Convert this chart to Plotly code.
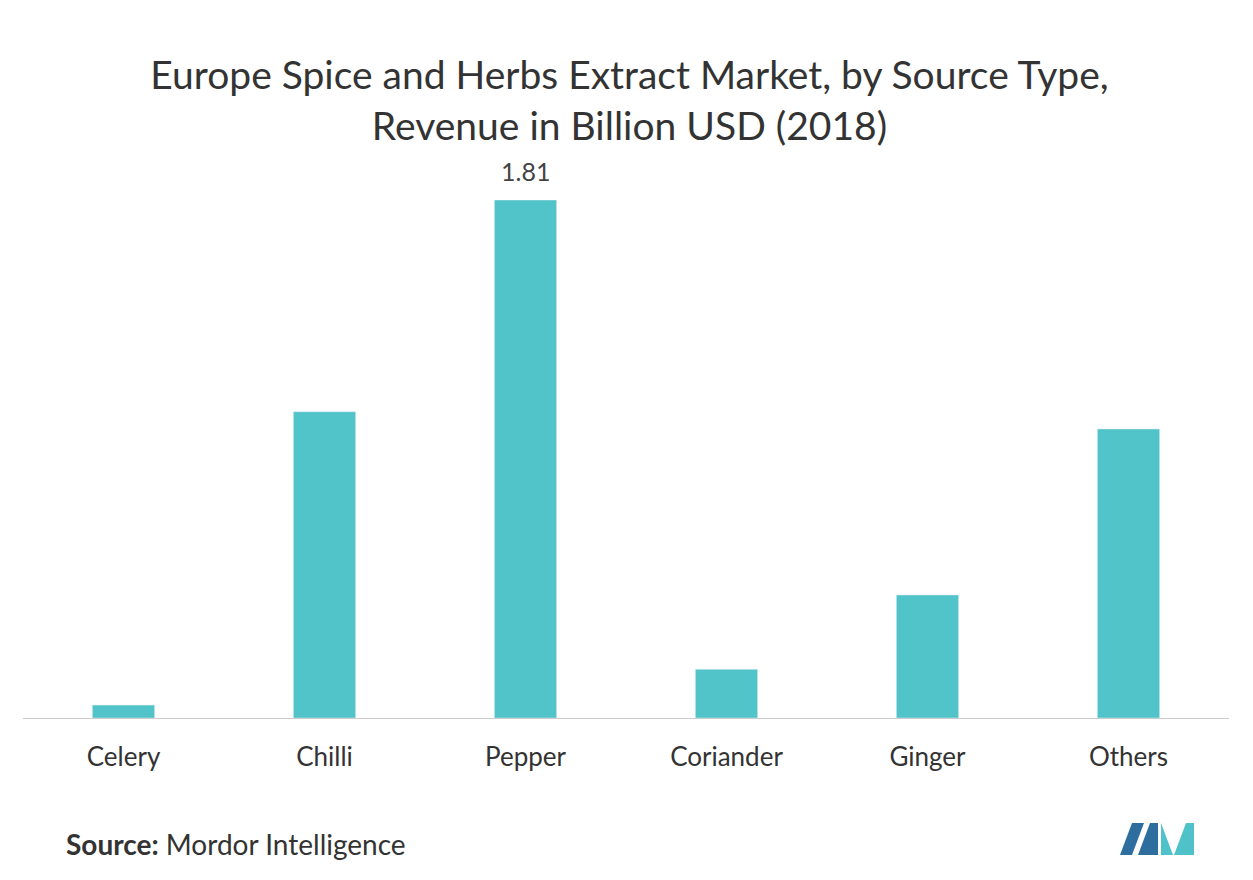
import plotly.graph_objects as go

categories = ["Celery", "Chilli", "Pepper", "Coriander", "Ginger", "Others"]
values = [0.045, 1.07, 1.81, 0.17, 0.43, 1.01]
labels = ["", "", "1.81", "", "", ""]

L, R, T, B = 15, 32, 192, 170

fig = go.Figure(go.Bar(x=categories, y=values, marker_color="#51C4CA"))
for c, v, t in zip(categories, values, labels):
    if t:
        fig.add_annotation(x=c, y=v, text=t, showarrow=False, yanchor="bottom", yshift=12,
                           font=dict(size=25, color="#444", family="Lato"))
fig.update_layout(
    width=1253, height=880, plot_bgcolor="white", paper_bgcolor="white",
    font=dict(family="Lato", color="#333"),
    title=dict(text="Europe Spice and Herbs Extract Market, by Source Type,<br>Revenue in Billion USD (2018)",
               x=0.496, xanchor="center", y=0.908, yanchor="top",
               font=dict(size=39, color="#333", family="Lato")),
    margin=dict(l=L, r=R, t=T, b=B),
    bargap=0.69, showlegend=False,
    xaxis=dict(showline=True, linecolor="#ccc", linewidth=1, ticks="outside",
               ticklen=16, tickcolor="rgba(0,0,0,0)",
               tickfont=dict(size=26, color="#333")),
    yaxis=dict(visible=False, range=[0, 1.81]),
)
fig.add_annotation(text="<b>Source:</b> Mordor Intelligence", xref="paper", yref="paper",
                   x=(56 - L) / (1253 - L - R), xanchor="left",
                   y=(880 - B - 836) / (880 - T - B), yanchor="middle", showarrow=False,
                   font=dict(size=28, color="#333", family="Lato"))
W, H = 1253 - L - R, 880 - T - B
shapes = []
for pts, col in [([(1112, 847), (1124, 815), (1136, 815), (1124, 847)], "#2E6E9E"),
                 ([(1130, 847), (1142, 815), (1150, 815), (1150, 847)], "#2E6E9E"),
                 ([(1153, 815), (1165, 847), (1153, 847)], "#4FC2C9"),
                 ([(1166, 847), (1178, 815), (1186, 815), (1186, 847)], "#4FC2C9")]:
    p = "M " + " L ".join(f"{(x-L)/W} {(880-B-y)/H}" for x, y in pts) + " Z"
    shapes.append(dict(type="path", path=p, xref="paper", yref="paper", fillcolor=col, line_width=0))
fig.update_layout(shapes=shapes)
fig.write_html("out.html")
